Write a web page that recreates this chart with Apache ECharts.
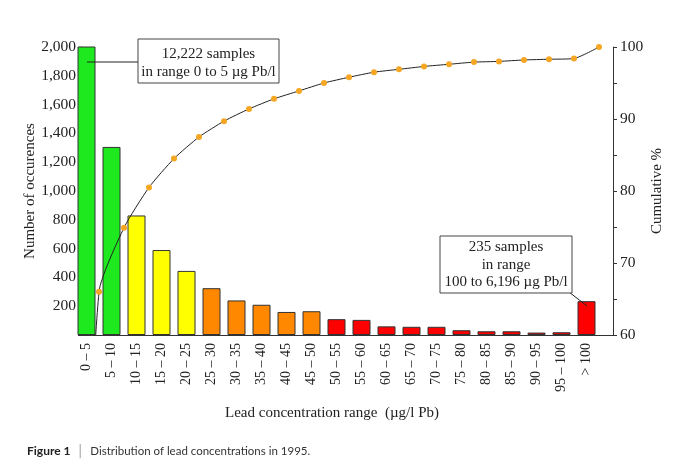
<!DOCTYPE html>
<html>
<head>
<meta charset="utf-8">
<script src="https://cdn.jsdelivr.net/npm/echarts@6/dist/echarts.min.js"></script>
<style>
  html, body { margin: 0; padding: 0; background: #fff; }
  #chart { width: 680px; height: 467px; }
</style>
</head>
<body>
<div id="chart"></div>
<script>
// ---- data ----
const categories = ['0 – 5','5 – 10','10 – 15','15 – 20','20 – 25','25 – 30','30 – 35','35 – 40','40 – 45','45 – 50',
  '50 – 55','55 – 60','60 – 65','65 – 70','70 – 75','75 – 80','80 – 85','85 – 90','90 – 95','95 – 100','> 100'];
const counts = [12222, 1306, 830, 590, 445, 325, 240, 210, 160, 165, 110, 105, 60, 57, 57, 33, 26, 26, 17, 19, 235];
const cumulativePct = [66.0, 74.9, 80.5, 84.5, 87.5, 89.7, 91.4, 92.8, 93.9, 95.0,
  95.8, 96.5, 96.9, 97.3, 97.6, 97.9, 98.0, 98.2, 98.3, 98.4, 100];
const leftTicks = [0, 2000, 100];   // min, max, step
const rightTicks = [60, 100, 5];

// ---- styles ----
const SERIF = 'Liberation Serif';
function bandColor(i) {
  if (i < 2) return '#1ee81e';
  if (i < 5) return '#ffff00';
  if (i < 10) return '#ff8800';
  return '#ff0000';
}

const barData = counts.map((v, i) => ({ value: [i + 0.5, v], itemStyle: { color: bandColor(i) } }));
const lineData = [{ value: [0, 0], symbol: 'none' }].concat(cumulativePct.map((v, i) => [i + 1, v]));

const chart = echarts.init(document.getElementById('chart'), null, { renderer: 'canvas' });
chart.setOption({
  backgroundColor: '#fff',
  animation: false,
  title: [
    { text: 'Lead concentration range  (µg/l Pb)', left: 327, top: 401, textAlign: 'center',
      textStyle: { fontFamily: SERIF, fontSize: 15, fontWeight: 'normal', color: '#222' } },
    { text: '{a|Figure 1} {s|│} {d|Distribution of lead concentrations in 1995.}', left: 22, top: 437,
      textStyle: { fontWeight: 'normal', rich: {
        a: { fontFamily: 'Lato', fontWeight: 'bold', fontSize: 12, color: '#222' },
        s: { fontFamily: 'Lato', fontWeight: 'normal', fontSize: 13, color: '#888' },
        d: { fontFamily: 'Lato', fontWeight: 'normal', fontSize: 11.5, color: '#333' }
      } } }
  ],
  grid: [
    { left: 81, right: 67, top: 47, bottom: 132 },
    { left: 74, right: 81, top: 47, bottom: 132 }
  ],
  xAxis: [
    { type: 'value', gridIndex: 0, min: 0.28, max: 21.56,
      axisLine: { show: true, lineStyle: { color: '#333', width: 1 } },
      axisTick: { show: false }, axisLabel: { show: false }, splitLine: { show: false } },
    { type: 'category', gridIndex: 1, data: categories,
      axisLine: { show: false }, axisTick: { show: false }, splitLine: { show: false },
      axisLabel: { rotate: 90, interval: 0, margin: 8, fontFamily: SERIF, fontSize: 14, color: '#222' } }
  ],
  yAxis: [
    { type: 'value', gridIndex: 0, position: 'left', min: leftTicks[0], max: leftTicks[1], interval: leftTicks[2],
      name: 'Number of occurences', nameLocation: 'middle', nameGap: 43, nameRotate: 90, nameMoveOverlap: false,
      nameTextStyle: { fontFamily: SERIF, fontSize: 15, color: '#222' },
      axisLine: { show: true, lineStyle: { color: '#333' } },
      axisTick: { show: true, length: 3, lineStyle: { color: '#333' } },
      splitLine: { show: false },
      axisLabel: { margin: 5, fontFamily: SERIF, fontSize: 15.5, color: '#222',
        formatter: v => (v > 0 && v % 200 === 0) ? v.toLocaleString('en-US') : '' } },
    { type: 'value', gridIndex: 0, position: 'right', min: rightTicks[0], max: rightTicks[1], interval: rightTicks[2],
      name: 'Cumulative %', nameLocation: 'middle', nameGap: 37, nameRotate: 90, nameMoveOverlap: false,
      nameTextStyle: { fontFamily: SERIF, fontSize: 15, color: '#222' },
      axisLine: { show: true, lineStyle: { color: '#333' } },
      axisTick: { show: true, length: 4, lineStyle: { color: '#333' } },
      splitLine: { show: false },
      axisLabel: { margin: 7, fontFamily: SERIF, fontSize: 15.5, color: '#222',
        formatter: v => (v % 10 === 0) ? String(v) : '' } },
    { type: 'value', gridIndex: 1, min: 0, max: 2000, show: false }
  ],
  series: [
    { type: 'bar', xAxisIndex: 0, yAxisIndex: 0, data: barData, barWidth: 18, clip: true,
      itemStyle: { borderColor: '#333', borderWidth: 1 } },
    { type: 'line', xAxisIndex: 0, yAxisIndex: 1, data: lineData, smooth: 0.2, clip: true,
      symbol: 'circle', symbolSize: 6, z: 5,
      itemStyle: { color: '#f5a623' }, lineStyle: { color: '#222', width: 1 } }
  ],
  graphic: [
    { type: 'line', z: 100, shape: { x1: 138, y1: 62, x2: 87, y2: 62 }, style: { stroke: '#222', lineWidth: 1 } },
    { type: 'rect', z: 100, shape: { x: 138, y: 39, width: 141, height: 44 }, style: { fill: '#fff', stroke: '#444', lineWidth: 1 } },
    { type: 'text', z: 101, style: { text: '12,222 samples\nin range 0 to 5 µg Pb/l', x: 208.5, y: 45, textAlign: 'center',
        font: '15px "Liberation Serif"', lineHeight: 18, fill: '#222' } },
    { type: 'line', z: 100, shape: { x1: 569, y1: 292, x2: 587, y2: 306 }, style: { stroke: '#222', lineWidth: 1 } },
    { type: 'rect', z: 100, shape: { x: 440, y: 236, width: 132, height: 57 }, style: { fill: '#fff', stroke: '#444', lineWidth: 1 } },
    { type: 'text', z: 101, style: { text: '235 samples\nin range\n100 to 6,196 µg Pb/l', x: 506, y: 238.5, textAlign: 'center',
        font: '15px "Liberation Serif"', lineHeight: 17.5, fill: '#222' } }
  ]
});
</script>
</body>
</html>
